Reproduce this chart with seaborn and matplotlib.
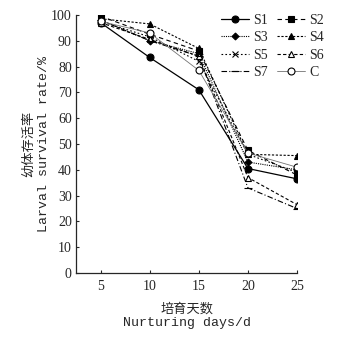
import pandas as pd
import seaborn as sns
import matplotlib.pyplot as plt

# survival rate (%)
days = [5, 10, 15, 20, 25]
s1 = [97, 83.5, 71, 40.5, 36.5]
s2 = [99.5, 92.5, 86, 47.5, 38]
s3 = [98, 90, 85, 43, 40]
s4 = [98.5, 96.5, 87, 46, 45.5]
s5 = [97.5, 91.5, 82, 46, 39]
s6 = [97, 90.5, 84, 37, 26.5]
s7 = [98, 90, 84, 33, 25]
c = [97.5, 93, 78.5, 46.5, 41]

names = ["S1", "S2", "S3", "S4", "S5", "S6", "S7", "C"]
series = [s1, s2, s3, s4, s5, s6, s7, c]

sns.set_style("ticks")
plt.rcParams['font.family'] = ['Liberation Serif', 'Noto Sans CJK SC']

# (linestyle, marker, markerfacecolor, markersize, linewidth)
styles = {
    "S1": ("-", "o", "black", 5, 0.9),
    "S2": ((0, (4, 3)), "s", "black", 4.5, 0.8),
    "S3": ((0, (1, 1)), "D", "black", 3.5, 0.8),
    "S4": ((0, (2, 1.5)), "^", "black", 5, 0.8),
    "S5": ((0, (1.5, 2)), "x", "black", 5, 0.8),
    "S6": ((0, (3, 2)), "^", "white", 5, 0.8),
    "S7": ((0, (5, 2, 1, 2)), "_", "black", 6, 0.8),
    "C": ("-", "o", "white", 5, 0.6),
}

fig = plt.figure(figsize=(3.47, 3.38), dpi=100)
ax = fig.add_axes([0.219, 0.192, 0.637, 0.764])

for name, vals in zip(names, series):
    ls, mk, mfc, ms, lw = styles[name]
    color = "0.45" if name == "C" else "black"
    sns.lineplot(x=days, y=vals, ax=ax, label=name, color=color,
                 linestyle=ls, marker=mk, markerfacecolor=mfc,
                 markeredgecolor="black", markersize=ms, linewidth=lw,
                 markeredgewidth=0.8)

ax.set_xlim(2.5, 25)
ax.set_ylim(0, 100)
ax.set_xticks(days)
ax.set_yticks(range(0, 101, 10))
ax.tick_params(direction="in", length=2, width=0.8, labelsize=10)
ax.tick_params(axis="x", pad=5)
ax.tick_params(axis="y", pad=3)
sns.despine(ax=ax)
for sp in ax.spines.values():
    sp.set_linewidth(0.9)

ax.set_xlabel("培育天数\nNurturing days/d", fontsize=9.5, linespacing=1.15,
              labelpad=7, family=['Liberation Mono', 'Noto Sans CJK SC'])
ax.set_ylabel("幼体存活率\nLarval survival rate/%", fontsize=9.5, linespacing=1.3,
              labelpad=1, family=['Liberation Mono', 'Noto Sans CJK SC'])

# row-wise legend order: S1 S2 / S3 S4 / S5 S6 / S7 C
handles, labels = ax.get_legend_handles_labels()
order = [0, 2, 4, 6, 1, 3, 5, 7]
ax.legend([handles[i] for i in order], [labels[i] for i in order],
          ncol=2, frameon=False, loc="upper right", bbox_to_anchor=(0.97, 0.995),
          bbox_transform=fig.transFigure, fontsize=10, handlelength=2.0,
          columnspacing=0.7, handletextpad=0.3, labelspacing=0.3)

fig.savefig("out.png", dpi=100)
